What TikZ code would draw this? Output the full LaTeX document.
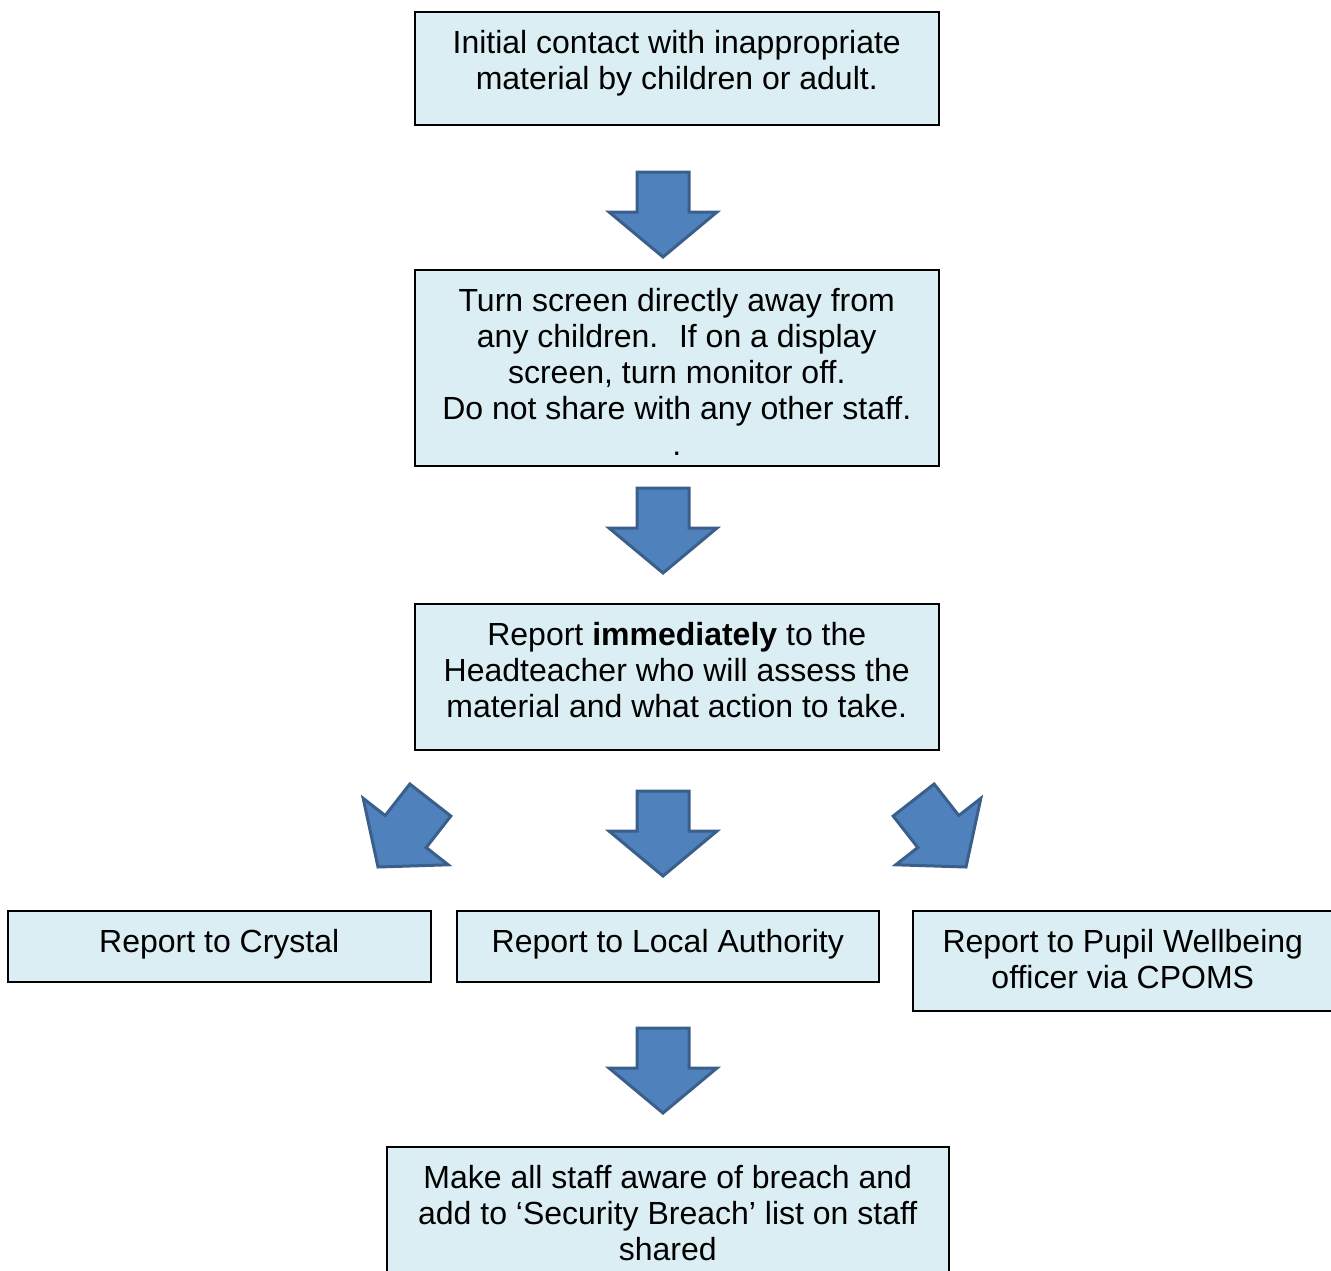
\documentclass[tikz,border=0pt]{standalone}
\usepackage{fontspec}
\setmainfont{Liberation Sans}
\usepackage{tikz}
\definecolor{boxfill}{HTML}{DBEEF4}
\definecolor{arrowfill}{HTML}{4F81BD}
\definecolor{arrowline}{HTML}{3A5F8B}
\newcommand{\boxtext}[3]{\parbox[c][#2pt][t]{#1pt}{\centering\rule{0pt}{41.7pt}#3}}
\newcommand{\flowarrow}[3]{%
\begin{scope}[shift={(#1,#2)},rotate=#3]
\draw[blockarrow](0,0)--(54,-45)--(26,-45)--(26,-85)--(-26,-85)--(-26,-45)--(-54,-45)--cycle;
\end{scope}}

\begin{document}
\begin{tikzpicture}[x=1pt,y=-1pt]
\tikzstyle{every node}=[font=\fontsize{32}{36}\selectfont]
\tikzstyle{flowbox}=[draw=black,line width=1.5pt,fill=boxfill,inner sep=0pt,anchor=north west]
\tikzstyle{blockarrow}=[draw=arrowline,line width=3pt,fill=arrowfill,line join=miter]
\useasboundingbox (0,0) rectangle (1331,1270);

\node[flowbox](contact) at (414,11){\boxtext{524}{113}{Initial contact with inappropriate\\ material by children or adult.}};
\node[flowbox](screen) at (414,269){\boxtext{524}{196}{Turn screen directly away from\\ any children.~ If on a display\\ screen, turn monitor off.\\ Do not share with any other staff.\\ .}};
\node[flowbox](head) at (414,603){\boxtext{524}{146}{Report \textbf{immediately} to the\\ Headteacher who will assess the\\ material and what action to take.}};
\node[flowbox](crystal) at (7,910){\boxtext{423}{71}{Report to Crystal}};
\node[flowbox](authority) at (456,910){\boxtext{422}{71}{Report to Local Authority}};
\node[flowbox](wellbeing) at (912,910){\boxtext{428}{100}{\hspace*{-8pt}Report to Pupil Wellbeing\\ \hspace*{-8pt}officer via CPOMS}};
\node[flowbox](aware) at (386,1146){\boxtext{562}{140}{Make all staff aware of breach and\\ add to ‘Security Breach’ list on staff\\ shared}};

\flowarrow{663}{257}{0}
\flowarrow{663}{573}{0}
\flowarrow{378}{867}{-38}
\flowarrow{663}{876}{0}
\flowarrow{966}{867}{38}
\flowarrow{663}{1113}{0}

\end{tikzpicture}
\end{document}
